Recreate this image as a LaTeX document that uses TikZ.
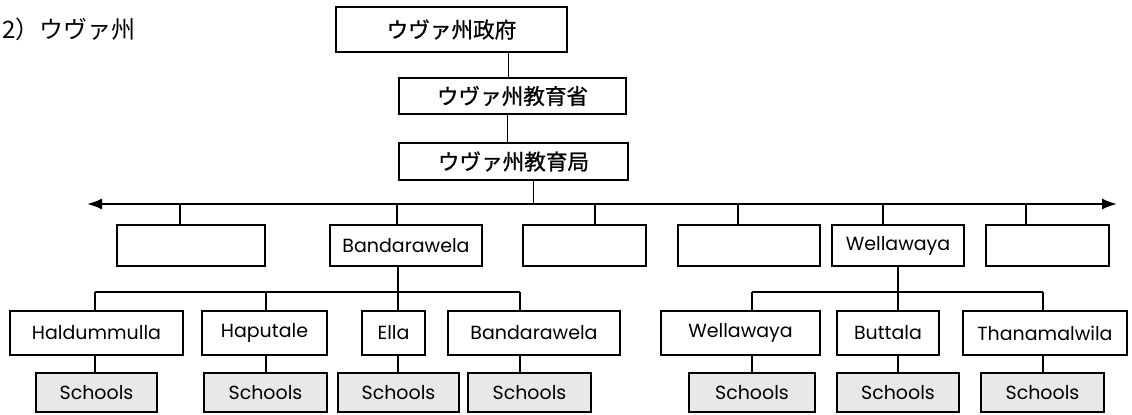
\documentclass[tikz,border=0pt]{standalone}
\usepackage{fontspec}
\setmainfont{Poppins}
\newfontfamily\jpfont{Noto Sans CJK JP}
\newfontfamily\jpmedium[FakeBold=0.9]{Noto Sans CJK JP}
\usetikzlibrary{arrows.meta}

\begin{document}
\begin{tikzpicture}[x=0.5pt,y=-0.5pt,
    box/.style 2 args={draw,line width=0.9pt,inner sep=0pt,minimum width=#1*0.5pt,minimum height=#2*0.5pt,font=\fontsize{9.5}{11}\selectfont},
    jbox/.style 2 args={box={#1}{#2},font=\jpmedium\fontsize{10.8}{12}\selectfont},
    school/.style={box={#1}{39},fill=black!9},
    link/.style={line width=0.6pt},
    trunk/.style={line width=0.9pt}]
    \useasboundingbox (0,0) rectangle (1132,414);
    \node[anchor=west,inner sep=0pt,font=\jpfont\fontsize{12}{14}\selectfont] (title) at (2,29) {2）ウヴァ州};
    \node[jbox={231}{45}] (gov) at (451.5,29.5) {ウヴァ州政府};
    \node[jbox={227}{36}] (min) at (512.5,96) {ウヴァ州教育省};
    \node[jbox={229}{37}] (dep) at (513.5,161.5) {ウヴァ州教育局};
    \coordinate (al) at (87,204);
    \coordinate (ar) at (1117,204);
    \foreach \n/\x in {1/180,2/397,3/595,4/738,5/883,6/1026}
        \coordinate (d\n) at (\x,204);
    \node[box={148}{41}] (r1) at (191,245.5) {};
    \node[box={152}{41}] (r2) at (406,245.5) {Bandarawela};
    \node[box={123}{41}] (r3) at (584.5,245.5) {};
    \node[box={142}{41}] (r4) at (749,245.5) {};
    \node[box={132}{41}] (r5) at (898,245.5) {Wellawaya};
    \node[box={123}{41}] (r6) at (1047.5,245.5) {};
    \foreach \n/\x in {1/95,2/266,3/398,4/520,5/752,6/898,7/1043}
        \coordinate (s\n) at (\x,292);
    \node[box={173}{44}] (h1) at (96.5,333) {Haldummulla};
    \node[box={125}{44}] (h2) at (264.5,333) {Haputale};
    \node[box={63}{44}] (h3) at (393.5,333) {Ella};
    \node[box={172}{44}] (h4) at (534,333) {Bandarawela};
    \node[box={159}{44}] (h5) at (740.5,333) {Wellawaya};
    \node[box={102}{44}] (h6) at (888,333) {Buttala};
    \node[box={164}{44}] (h7) at (1045,333) {Thanamalwila};
    \node[school={121}] (sc1) at (96.5,392.5) {Schools\hspace{12pt}};
    \node[school={123}] (sc2) at (265.5,392.5) {Schools\hspace{12pt}};
    \node[school={121}] (sc3) at (398.5,392.5) {Schools\hspace{12pt}};
    \node[school={123}] (sc4) at (529.5,392.5) {Schools\hspace{12pt}};
    \node[school={126}] (sc5) at (752,392.5) {Schools\hspace{12pt}};
    \node[school={122}] (sc6) at (898,392.5) {Schools\hspace{12pt}};
    \node[school={123}] (sc7) at (1042.5,392.5) {Schools\hspace{12pt}};
    \draw[link]([xshift=-2pt]min.north) -- ([xshift=-2pt]min.north |- gov.south);
    \draw[trunk]([xshift=-3pt]dep.north) -- ([xshift=-3pt]dep.north |- min.south);
    \draw[link]([xshift=10pt]dep.south) -- ([xshift=10pt]dep.south |- al);
    \draw[trunk,{Latex[length=7.5pt,width=5.5pt]}-{Latex[length=7.5pt,width=5.5pt]}](al) -- (ar);
    \foreach \n in {1,...,6}
        \draw[link](d\n) -- (d\n |- r\n.north);
    \draw[link](s1) -- (s4);
    \draw[link](s5) -- (s7);
    \draw[trunk](r2.south -| s3) -- (s3 |- h3.north);
    \draw[trunk](r5.south -| s6) -- (s6 |- h6.north);
    \foreach \n in {1,2,4,5,7}
        \draw[link](s\n) -- (s\n |- h\n.north);
    \foreach \n in {1,...,7}
        \draw[link](s\n |- h\n.south) -- (s\n |- sc\n.north);
\end{tikzpicture}
\end{document}
